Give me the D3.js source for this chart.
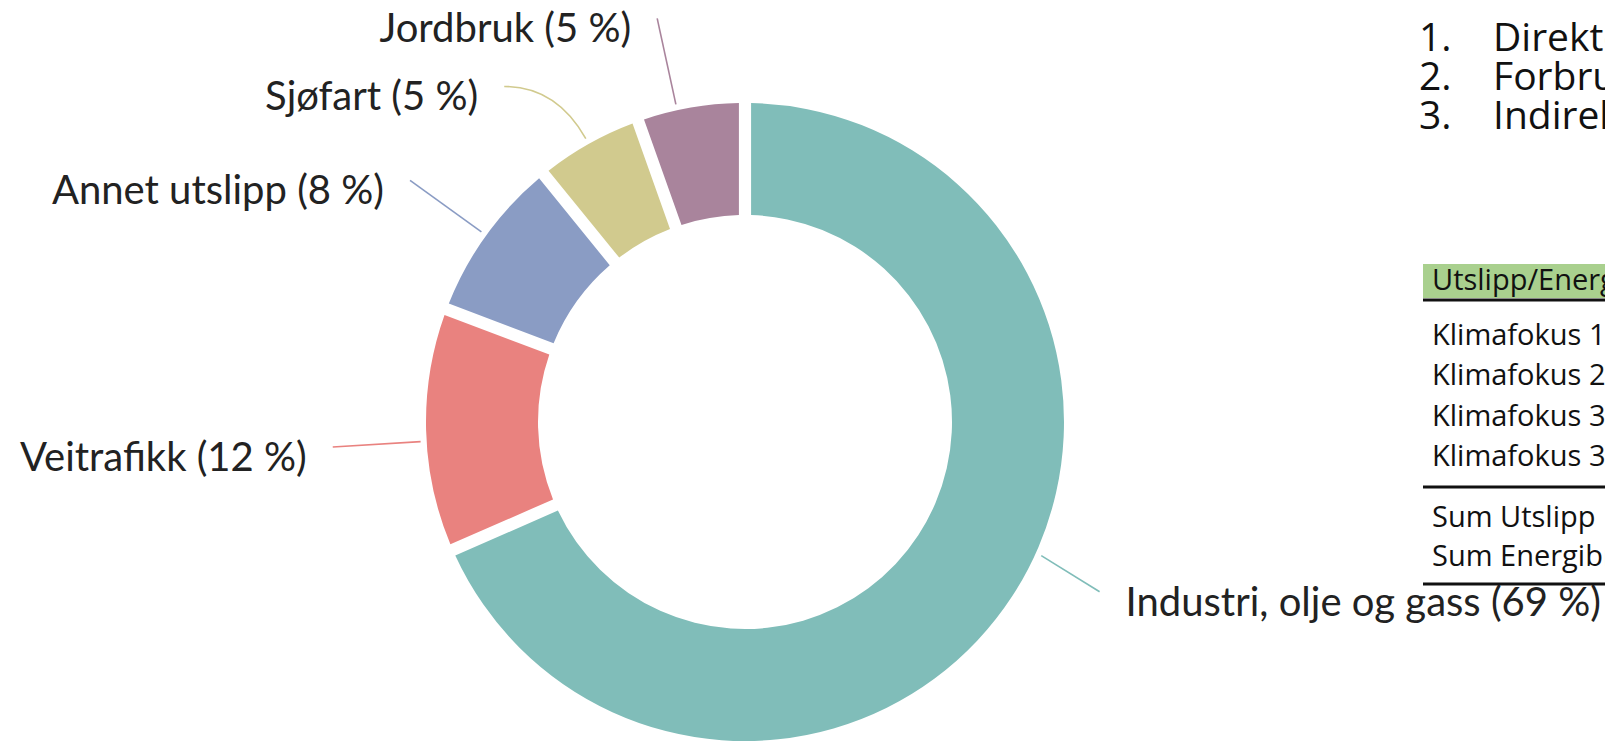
<!DOCTYPE html>
<html>
<head>
<meta charset="utf-8">
<script src="https://cdn.jsdelivr.net/npm/d3@7"></script>
<style>
  body { margin: 0; background: #fff; overflow: hidden; }
  svg { display: block; }
</style>
</head>
<body>
<div id="chart"></div>
<script>
// donut data
const categories = ["Industri, olje og gass", "Veitrafikk", "Annet utslipp", "Sjøfart", "Jordbruk"];
const shares = [69, 12, 8, 5, 5];
const colors = ["#80bdb9", "#e9827f", "#8a9cc4", "#d1ca8e", "#a9849c"];

// text on the right (cut off by the page edge)
const listItems = ["Direkte utslipp", "Forbruk av energi", "Indirekte utslipp"];
const tableHeader = "Utslipp/Energibruk";
const tableRows = ["Klimafokus 1", "Klimafokus 2", "Klimafokus 3", "Klimafokus 3"];
const tableSums = ["Sum Utslipp", "Sum Energibruk"];

const width = 1605, height = 743;
const cx = 745, cy = 422, outerR = 319, innerR = 207;
const labelR = 413, textGap = 26;
// small angle shifts (degrees) for where each label line leaves its slice
const labelNudge = [-8.9, -2, 0, 0, -2.5];

const svg = d3.select("#chart")
  .append("svg")
    .attr("width", width)
    .attr("height", height);

const data = categories.map((c, i) => ({name: c, value: shares[i], color: colors[i]}));

const pie = d3.pie()
  .value(d => d.value)
  .sort(null)
  .padAngle(0.032);

const arc = d3.arc()
  .innerRadius(innerR)
  .outerRadius(outerR);

const arcs = pie(data);

const g = svg.append("g")
  .attr("transform", `translate(${cx},${cy})`);

g.selectAll("path.slice")
  .data(arcs)
  .join("path")
    .attr("class", "slice")
    .attr("d", arc)
    .attr("fill", d => d.data.color);

function polar(r, a) { return [r * Math.sin(a), -r * Math.cos(a)]; }

const labels = arcs.map((d, i) => {
  const a = (d.startAngle + d.endAngle) / 2 + labelNudge[i] * Math.PI / 180;
  const side = Math.sin(a) >= 0 ? 1 : -1;
  return {d, a, side, y: polar(labelR, a)[1]};
});

// keep left labels apart: push lower ones down
const minGap = 68;
const left = labels.filter(l => l.side < 0).sort((a, b) => a.y - b.y);
for (let i = 1; i < left.length; i++) {
  if (left[i].y - left[i - 1].y < minGap) left[i].y = left[i - 1].y + minGap;
}

labels.forEach(l => {
  const dx = Math.sqrt(Math.max(labelR * labelR - l.y * l.y, 0));
  l.end = [l.side * dx, l.y];
  l.tx = l.end[0] + l.side * textGap;
});

const labelText = g.selectAll("text.label")
  .data(labels)
  .join("text")
    .attr("class", "label")
    .attr("y", l => l.end[1] + 10)
    .attr("dy", "0.35em")
    .attr("text-anchor", l => l.side > 0 ? "start" : "end")
    .style("font-family", "Lato, 'Open Sans', sans-serif")
    .style("font-size", "40px")
    .style("fill", "#222")
    .text(l => `${l.d.data.name} (${l.d.data.value} %)`);

// keep right-hand labels inside the page, pull their line back with them
labelText.each(function(l) {
  if (l.side > 0) {
    const maxX = width - cx - 4 - this.getComputedTextLength();
    if (l.tx > maxX) {
      l.tx = maxX;
      l.end = [maxX - textGap, l.end[1]];
    }
  }
  d3.select(this).attr("x", l.tx);
});

labels.forEach(l => {
  l.p0 = polar(outerR + 6, l.a);
  const rc = -l.end[1] / Math.cos(l.a);
  const c = polar(rc, l.a);
  const ok = rc > outerR + 20 && rc <= labelR + 1 && (l.end[0] - c[0]) * l.side >= 0;
  l.ctrl = ok ? c : [(l.p0[0] + l.end[0]) / 2, (l.p0[1] + l.end[1]) / 2];
});

g.selectAll("path.leader")
  .data(labels)
  .join("path")
    .attr("class", "leader")
    .attr("d", l => `M${l.p0}Q${l.ctrl} ${l.end}`)
    .attr("fill", "none")
    .attr("stroke", l => l.d.data.color)
    .attr("stroke-width", 1.6);

// numbered list
const list = svg.append("g")
  .style("font-family", "'Open Sans', sans-serif")
  .style("font-size", "39px")
  .style("fill", "#111");

const listY = d3.scalePoint().domain(d3.range(listItems.length)).range([37, 115]);

list.selectAll("text.num")
  .data(listItems)
  .join("text")
    .attr("class", "num")
    .attr("x", 1419)
    .attr("y", (d, i) => listY(i))
    .attr("dy", "0.35em")
    .text((d, i) => `${i + 1}.`);

list.selectAll("text.item")
  .data(listItems)
  .join("text")
    .attr("class", "item")
    .attr("x", 1493)
    .attr("y", (d, i) => listY(i))
    .attr("dy", "0.35em")
    .text(d => d);

// table
const tbl = svg.append("g")
  .style("font-family", "'Open Sans', sans-serif")
  .style("font-size", "29px")
  .style("fill", "#111");

const tx = 1423;
tbl.append("rect")
  .attr("x", tx).attr("y", 264)
  .attr("width", width - tx).attr("height", 34)
  .attr("fill", "#a9d08e");

tbl.append("text")
  .attr("x", tx + 9).attr("y", 280).attr("dy", "0.35em")
  .text(tableHeader);

const rowY = d3.scalePoint().domain(d3.range(tableRows.length)).range([335, 456]);
tbl.selectAll("text.row")
  .data(tableRows)
  .join("text")
    .attr("class", "row")
    .attr("x", tx + 9)
    .attr("y", (d, i) => rowY(i))
    .attr("dy", "0.35em")
    .text(d => d);

const sumY = d3.scalePoint().domain(d3.range(tableSums.length)).range([517, 556]);
tbl.selectAll("text.sum")
  .data(tableSums)
  .join("text")
    .attr("class", "sum")
    .attr("x", tx + 9)
    .attr("y", (d, i) => sumY(i))
    .attr("dy", "0.35em")
    .text(d => d);

[300, 487, 584].forEach(y => {
  tbl.append("line")
    .attr("x1", tx).attr("x2", width)
    .attr("y1", y).attr("y2", y)
    .attr("stroke", "#111")
    .attr("stroke-width", 3);
});
</script>
</body>
</html>
